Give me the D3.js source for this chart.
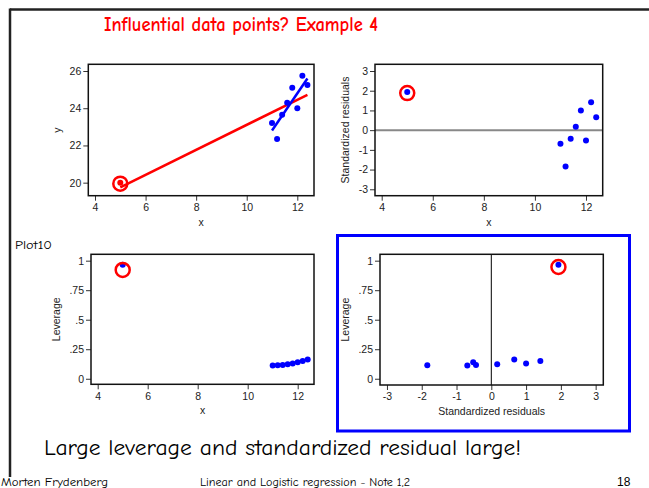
<!DOCTYPE html>
<html>
<head>
<meta charset="utf-8">
<script src="https://cdn.jsdelivr.net/npm/d3@7/dist/d3.min.js"></script>
<style>
  html, body { margin: 0; padding: 0; background: #fff; }
  svg { display: block; }
  .tick text { font-family: "Liberation Sans", Arial, sans-serif; }
</style>
</head>
<body>
<svg id="chart" width="649" height="488"></svg>
<script>
// ---- data ----
const xVals     = [5, 11, 11.2, 11.4, 11.6, 11.8, 12, 12.2, 12.4];
const yVals     = [20, 23.2, 22.35, 23.65, 24.3, 25.1, 24.0, 25.75, 25.25];
const stdResid  = [1.93, -0.69, -1.84, -0.44, 0.17, 1.0, -0.52, 1.41, 0.66];
const leverage  = [0.965, 0.112, 0.114, 0.117, 0.122, 0.129, 0.140, 0.150, 0.163];
const fitAllX   = [5, 12.4];
const fitAllY   = [19.75, 24.72];
const fitSubX   = [11, 12.4];
const fitSubY   = [22.8, 25.6];
const outlierIndex = 0;

const xTicks    = [4, 6, 8, 10, 12];
const yTicks    = [20, 22, 24, 26];
const residTicks = [-3, -2, -1, 0, 1, 2, 3];
const levTicks  = [0, 0.25, 0.5, 0.75, 1];
const levTickLabels = ["0", ".25", ".5", ".75", "1"];

const titleText = "Influential data points? Example 4";
const noteText = "Large leverage and standardized residual large!";
const plotLabel = "Plot10";
const footerLeft = "Morten Frydenberg";
const footerMid = "Linear and Logistic regression - Note 1,2";
const footerRight = "18";

// ---- drawing ----
const svg = d3.select("#chart");
const comic = "'Comic Sans MS', 'Comic Neue', 'DejaVu Sans', sans-serif";
const axisFont = "'Liberation Sans', Arial, sans-serif";
const intFmt = d => String(d); // plain hyphen-minus like the reference

// slide border
svg.append("line").attr("x1", 10).attr("y1", 9.5).attr("x2", 649).attr("y2", 9.5)
  .attr("stroke", "#222").attr("stroke-width", 2.5);
svg.append("line").attr("x1", 10).attr("y1", 8.5).attr("x2", 10).attr("y2", 477)
  .attr("stroke", "#222").attr("stroke-width", 2.5);

// title
svg.append("text").attr("x", 104).attr("y", 31)
  .attr("font-family", comic).attr("font-weight", "bold").attr("font-size", 21)
  .attr("fill", "#ff0000").attr("textLength", 274).attr("lengthAdjust", "spacingAndGlyphs")
  .text(titleText);

// blue highlight box
svg.append("rect").attr("x", 337.5).attr("y", 235.5).attr("width", 292).attr("height", 195.5)
  .attr("fill", "none").attr("stroke", "#0000ff").attr("stroke-width", 3);

function panel(opts) {
  const g = svg.append("g");
  const x = d3.scaleLinear().domain(opts.xDomain).range([opts.left, opts.right]);
  const y = d3.scaleLinear().domain(opts.yDomain).range([opts.bottom, opts.top]);

  if (opts.hLine !== undefined) {
    g.append("line").attr("x1", opts.left).attr("x2", opts.right)
      .attr("y1", y(opts.hLine)).attr("y2", y(opts.hLine))
      .attr("stroke", "#888").attr("stroke-width", 2);
  }
  if (opts.vLine !== undefined) {
    g.append("line").attr("y1", opts.top).attr("y2", opts.bottom)
      .attr("x1", x(opts.vLine)).attr("x2", x(opts.vLine))
      .attr("stroke", "#000").attr("stroke-width", 1);
  }

  const xa = g.append("g").attr("transform", `translate(0,${opts.bottom})`)
    .call(d3.axisBottom(x).tickValues(opts.xTicks).tickSize(5).tickPadding(3)
      .tickFormat(opts.xFormat || intFmt));
  const ya = g.append("g").attr("transform", `translate(${opts.left},0)`)
    .call(d3.axisLeft(y).tickValues(opts.yTicks).tickSize(5).tickPadding(2)
      .tickFormat(opts.yFormat || intFmt));
  [xa, ya].forEach(a => {
    a.select(".domain").remove();
    a.selectAll(".tick line").attr("stroke", "#333");
    a.selectAll(".tick text").attr("font-size", 10.5).attr("fill", "#222")
      .attr("font-family", axisFont);
  });

  g.append("rect").attr("x", opts.left).attr("y", opts.top)
    .attr("width", opts.right - opts.left).attr("height", opts.bottom - opts.top)
    .attr("fill", "none").attr("stroke", "#111").attr("stroke-width", 1.5);

  g.append("text").attr("x", (opts.left + opts.right) / 2).attr("y", opts.bottom + 30)
    .attr("text-anchor", "middle").attr("font-family", axisFont).attr("font-size", 10.5)
    .attr("fill", "#222").text(opts.xTitle);
  g.append("text")
    .attr("transform", `translate(${opts.yTitleX},${(opts.top + opts.bottom) / 2}) rotate(-90)`)
    .attr("text-anchor", "middle").attr("font-family", axisFont).attr("font-size", 10.5)
    .attr("fill", "#222").text(opts.yTitle);

  return { g, x, y };
}

function ring(p, cx, cy) {
  p.g.append("circle").attr("cx", p.x(cx)).attr("cy", p.y(cy) + 1).attr("r", 7)
    .attr("fill", "none").attr("stroke", "#ff0000").attr("stroke-width", 2.5);
}

const idx = d3.range(xVals.length);

// ---- Panel 1: y vs x with fitted lines ----
const p1 = panel({
  left: 88.3, right: 314, top: 64.3, bottom: 195.7,
  xDomain: [3.735, 12.66], yDomain: [19.3, 26.36],
  xTicks: xTicks, yTicks: yTicks, xTitle: "x", yTitle: "y", yTitleX: 61
});
const line = d3.line().x(d => p1.x(d[0])).y(d => p1.y(d[1]));
p1.g.append("path").datum(d3.zip(fitAllX, fitAllY)).attr("d", line)
  .attr("stroke", "#ff0000").attr("stroke-width", 2.5).attr("fill", "none");
p1.g.append("path").datum(d3.zip(fitSubX, fitSubY)).attr("d", line)
  .attr("stroke", "#0000ff").attr("stroke-width", 2.5).attr("fill", "none");
p1.g.selectAll("circle.pt").data(idx).join("circle").attr("class", "pt")
  .attr("cx", i => p1.x(xVals[i])).attr("cy", i => p1.y(yVals[i])).attr("r", 3)
  .attr("fill", i => i === outlierIndex ? "#ff0000" : "#0000ff");
ring(p1, xVals[outlierIndex], yVals[outlierIndex]);

// ---- Panel 2: standardized residuals vs x ----
const p2 = panel({
  left: 375, right: 602.7, top: 64.3, bottom: 195.7,
  xDomain: [3.738, 12.654], yDomain: [-3.325, 3.34],
  xTicks: xTicks, yTicks: residTicks, xTitle: "x", yTitle: "Standardized residuals",
  yTitleX: 349, hLine: 0
});
p2.g.selectAll("circle.pt").data(idx).join("circle").attr("class", "pt")
  .attr("cx", i => p2.x(xVals[i])).attr("cy", i => p2.y(stdResid[i])).attr("r", 3)
  .attr("fill", "#0000ff");
ring(p2, xVals[outlierIndex], stdResid[outlierIndex]);

// ---- Panel 3: leverage vs x ----
const levFmt = d => levTickLabels[levTicks.indexOf(d)];
const p3 = panel({
  left: 91, right: 314, top: 254.3, bottom: 384.3,
  xDomain: [3.732, 12.652], yDomain: [-0.047, 1.054],
  xTicks: xTicks, yTicks: levTicks, yFormat: levFmt, xTitle: "x", yTitle: "Leverage",
  yTitleX: 60
});
p3.g.selectAll("circle.pt").data(idx).join("circle").attr("class", "pt")
  .attr("cx", i => p3.x(xVals[i])).attr("cy", i => p3.y(leverage[i])).attr("r", 3)
  .attr("fill", "#0000ff");
ring(p3, xVals[outlierIndex], leverage[outlierIndex] - 0.035);

// ---- Panel 4: leverage vs standardized residuals ----
const p4 = panel({
  left: 380, right: 603.3, top: 254.3, bottom: 385,
  xDomain: [-3.2, 3.22], yDomain: [-0.053, 1.054],
  xTicks: residTicks, yTicks: levTicks, yFormat: levFmt,
  xTitle: "Standardized residuals", yTitle: "Leverage", yTitleX: 349, vLine: 0
});
p4.g.selectAll("circle.pt").data(idx).join("circle").attr("class", "pt")
  .attr("cx", i => p4.x(stdResid[i])).attr("cy", i => p4.y(leverage[i])).attr("r", 3)
  .attr("fill", "#0000ff");
ring(p4, stdResid[outlierIndex], leverage[outlierIndex] - 0.01);

// ---- texts ----
svg.append("text").attr("x", 15).attr("y", 249)
  .attr("font-family", comic).attr("font-size", 11).attr("fill", "#000")
  .attr("textLength", 37).attr("lengthAdjust", "spacingAndGlyphs").text(plotLabel);

svg.append("text").attr("x", 44).attr("y", 455)
  .attr("font-family", comic).attr("font-size", 22).attr("fill", "#000")
  .attr("textLength", 477).attr("lengthAdjust", "spacingAndGlyphs").text(noteText);

svg.append("text").attr("x", 1).attr("y", 486)
  .attr("font-family", comic).attr("font-size", 12).attr("fill", "#000")
  .attr("textLength", 107).attr("lengthAdjust", "spacingAndGlyphs").text(footerLeft);
svg.append("text").attr("x", 200).attr("y", 486)
  .attr("font-family", comic).attr("font-size", 12).attr("fill", "#000")
  .attr("textLength", 210).attr("lengthAdjust", "spacingAndGlyphs").text(footerMid);
svg.append("text").attr("x", 617).attr("y", 486)
  .attr("font-family", axisFont).attr("font-size", 12).attr("fill", "#000")
  .text(footerRight);
</script>
</body>
</html>
